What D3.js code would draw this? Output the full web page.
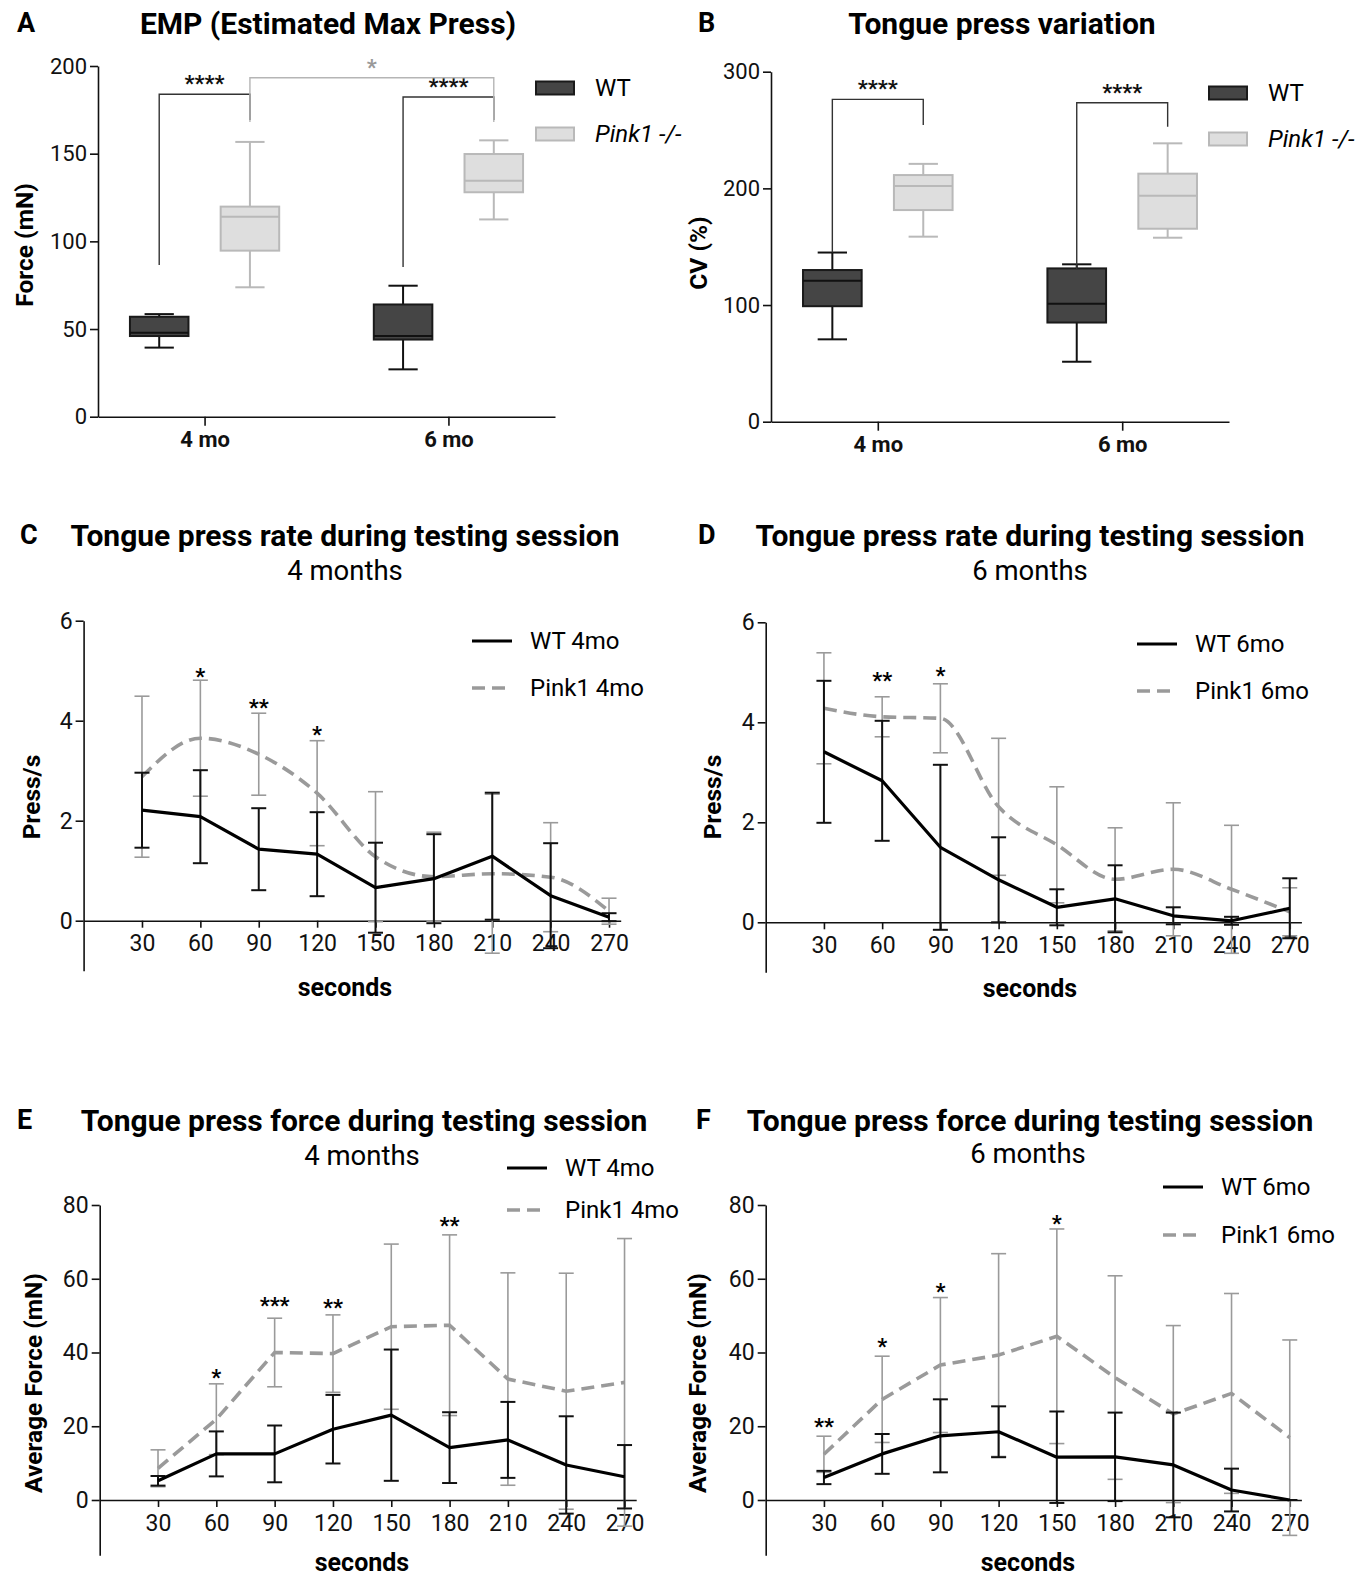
<!DOCTYPE html>
<html>
<head>
<meta charset="utf-8">
<script src="https://cdn.jsdelivr.net/npm/d3@7"></script>
<style>
  body { margin: 0; background: #fff; }
  svg { display: block; font-family: Roboto, "Liberation Sans", sans-serif; }
</style>
</head>
<body>
<svg id="fig" width="1370" height="1579"></svg>
<script>
/* ───── data ───── */

const ageGroups = ["4 mo", "6 mo"];

// box plots: [min, q1, median, q3, max] per age group
const empWT   = [[39.4, 46, 47.9, 57, 58.5], [27, 44, 46, 64, 74.7]];
const empPink = [[73.8, 94.7, 114, 119.8, 156.7], [112.5, 128, 134.6, 149.8, 157.6]];
const cvWT    = [[70.6, 99, 120.9, 130, 145], [51.4, 85, 101, 131.4, 134.9]];
const cvPink  = [[158.6, 181.4, 202, 211.4, 221], [157.7, 165.4, 193.7, 212.6, 238.6]];

// significance brackets: [fromGroup, fromSeries, toGroup, toSeries, startValue, topValue, endValue, label, kind]
const empBrackets = [
  ["4 mo", 0, "4 mo", 1, 86.5, 183.9, 169.2, "****", "within"],
  ["6 mo", 0, "6 mo", 1, 85.4, 182.3, 169.2, "****", "within"],
  ["4 mo", 1, "6 mo", 1, 168, 193.3, 168, "*", "between"]
];
const cvBrackets = [
  ["4 mo", 0, "4 mo", 1, 145, 276.3, 254.3, "****", "within"],
  ["6 mo", 0, "6 mo", 1, 130, 273.4, 252.9, "****", "within"]
];

const seconds = [30, 60, 90, 120, 150, 180, 210, 240, 270];

const rate4WTMean   = [2.21, 2.08, 1.43, 1.33, 0.66, 0.84, 1.29, 0.50, 0.07];
const rate4WTSd     = [0.75, 0.93, 0.82, 0.84, 0.90, 0.89, 1.27, 1.05, 0.08];
const rate4PinkMean = [2.88, 3.65, 3.33, 2.55, 1.28, 0.88, 0.94, 0.87, 0.19];
const rate4PinkSd   = [1.61, 1.16, 0.82, 1.05, 1.30, 0.89, 1.59, 1.09, 0.26];
const rate4Stars    = [[60, "*", 4.97], [90, "**", 4.35], [120, "*", 3.81]];

const rate6WTMean   = [3.41, 2.83, 1.50, 0.85, 0.30, 0.47, 0.13, 0.03, 0.28];
const rate6WTSd     = [1.42, 1.20, 1.65, 0.85, 0.36, 0.67, 0.17, 0.08, 0.60];
const rate6PinkMean = [4.28, 4.11, 4.08, 2.31, 1.55, 0.86, 1.06, 0.66, 0.21];
const rate6PinkSd   = [1.11, 0.40, 0.69, 1.37, 1.16, 1.03, 1.33, 1.28, 0.48];
const rate6Stars    = [[60, "**", 4.91], [90, "*", 5.01]];

const force4WTMean   = [5.2, 12.5, 12.5, 19.2, 23.0, 14.2, 16.3, 9.5, 6.3];
const force4WTSd     = [1.3, 6.1, 7.7, 9.3, 17.8, 9.6, 10.3, 13.2, 8.6];
const force4PinkMean = [8.6, 21.9, 40.0, 39.7, 47.0, 47.4, 32.8, 29.5, 31.9];
const force4PinkSd   = [5.0, 9.6, 9.3, 10.5, 22.4, 24.5, 28.8, 32.0, 39.0];
const force4Stars    = [[60, "*", 34.4], [90, "***", 53.8], [120, "**", 53.4], [180, "**", 75.5]];

const force6WTMean   = [6.1, 12.5, 17.4, 18.5, 11.6, 11.7, 9.5, 2.7, 0];
const force6WTSd     = [1.8, 5.4, 9.9, 6.9, 12.4, 12.0, 14.2, 5.8, 0];
const force6PinkMean = [12.4, 27.3, 36.6, 39.3, 44.4, 33.2, 23.3, 28.9, 16.9];
const force6PinkSd   = [4.9, 11.7, 18.3, 27.5, 29.1, 27.6, 24.0, 27.1, 26.5];
const force6Stars    = [[30, "**", 20.9], [60, "*", 42.6], [90, "*", 57.6], [150, "*", 76.2]];

/* ───── styles ───── */

const WT_FILL = "#454545", WT_STROKE = "#1a1a1a";
const PINK_FILL = "#dedede", PINK_STROKE = "#b9b9b9";
const LINE_GREY = "#9a9a9a";

const svg = d3.select("#fig");

function styleAxis(g, size) {
  g.selectAll("path, line").attr("stroke", "#111").attr("stroke-width", 1.6);
  g.selectAll("text")
    .attr("fill", "#111")
    .style("font-size", size + "px")
    .style("font-family", "Roboto, sans-serif");
}

function headers(c) {
  svg.append("text")
    .attr("x", c.letterX).attr("y", c.titleY)
    .attr("dominant-baseline", "central")
    .style("font-size", "27px").style("font-weight", "700")
    .text(c.letter);
  svg.append("text")
    .attr("x", c.titleX).attr("y", c.titleY)
    .attr("text-anchor", "middle").attr("dominant-baseline", "central")
    .style("font-size", "30px").style("font-weight", "700")
    .text(c.title);
  if (c.subtitle) {
    svg.append("text")
      .attr("x", c.subX).attr("y", c.subY)
      .attr("text-anchor", "middle").attr("dominant-baseline", "central")
      .style("font-size", "27.5px")
      .text(c.subtitle);
  }
}

function yLabel(text, x, y) {
  svg.append("text")
    .attr("transform", `translate(${x},${y}) rotate(-90)`)
    .attr("text-anchor", "middle").attr("dominant-baseline", "central")
    .style("font-size", "24.5px").style("font-weight", "700")
    .text(text);
}

/* ───── box plot panels (A, B) ───── */

function boxPanel(c) {
  headers(c);

  const x = d3.scalePoint().domain(ageGroups).range([c.left, c.right]).padding(0.437);
  const y = d3.scaleLinear().domain([0, c.yMax]).range([c.bottom, c.top]);
  const step = x.step();
  const off = [-0.186 * step, 0.186 * step];
  const bw = 0.24 * step;

  const cx = (grp, s) => x(grp) + off[s];

  const series = [
    { stats: c.wt,   fill: WT_FILL,   stroke: WT_STROKE,   whisk: "#111",      med: "#111" },
    { stats: c.pink, fill: PINK_FILL, stroke: PINK_STROKE, whisk: PINK_STROKE, med: PINK_STROKE }
  ];

  series.forEach((s, si) => {
    const g = svg.append("g");
    ageGroups.forEach((grp, gi) => {
      const [mn, q1, md, q3, mx] = s.stats[gi];
      const xc = cx(grp, si);
      // whiskers
      g.append("line").attr("x1", xc).attr("x2", xc).attr("y1", y(mx)).attr("y2", y(q3))
        .attr("stroke", s.whisk).attr("stroke-width", 2);
      g.append("line").attr("x1", xc).attr("x2", xc).attr("y1", y(q1)).attr("y2", y(mn))
        .attr("stroke", s.whisk).attr("stroke-width", 2);
      [mn, mx].forEach(v => {
        g.append("line").attr("x1", xc - bw / 4).attr("x2", xc + bw / 4)
          .attr("y1", y(v)).attr("y2", y(v))
          .attr("stroke", s.whisk).attr("stroke-width", 2);
      });
      g.append("rect")
        .attr("x", xc - bw / 2).attr("width", bw)
        .attr("y", y(q3)).attr("height", y(q1) - y(q3))
        .attr("fill", s.fill).attr("stroke", s.stroke).attr("stroke-width", 2);
      g.append("line").attr("x1", xc - bw / 2).attr("x2", xc + bw / 2)
        .attr("y1", y(md)).attr("y2", y(md))
        .attr("stroke", s.med).attr("stroke-width", 2);
    });
  });

  // brackets
  c.brackets.forEach(([g0, s0, g1, s1, v0, vt, v1, label, kind]) => {
    const col = kind === "between" ? "#b5b5b5" : "#333";
    const x0 = cx(g0, s0), x1 = cx(g1, s1);
    svg.append("path")
      .attr("d", `M${x0},${y(v0)}V${y(vt)}H${x1}V${y(v1)}`)
      .attr("fill", "none").attr("stroke", col).attr("stroke-width", 1.4);
    svg.append("text")
      .attr("x", (x0 + x1) / 2).attr("y", y(vt) - 3)
      .attr("text-anchor", "middle")
      .attr("fill", kind === "between" ? "#999" : "#111")
      .style("font-size", "22px").style("font-weight", "700")
      .text(label);
  });

  const ya = svg.append("g").attr("transform", `translate(${c.left},0)`)
    .call(d3.axisLeft(y).ticks(c.yMax / c.yStep).tickSize(8).tickSizeOuter(0).tickPadding(3));
  styleAxis(ya, 22);

  const xa = svg.append("g").attr("transform", `translate(0,${c.bottom})`)
    .call(d3.axisBottom(x).tickSize(9).tickSizeOuter(0).tickPadding(6));
  styleAxis(xa, 22);
  xa.selectAll("text").style("font-weight", "700");

  yLabel(c.ylabel, c.ylabelX, c.ylabelY);

  // legend
  [["WT", WT_FILL, WT_STROKE, "normal"], ["Pink1 -/-", PINK_FILL, PINK_STROKE, "italic"]]
    .forEach(([name, fill, stroke, fs], i) => {
      const ly = c.legY + i * 46;
      svg.append("rect").attr("x", c.legX).attr("y", ly - 6.5).attr("width", 38).attr("height", 13)
        .attr("fill", fill).attr("stroke", stroke).attr("stroke-width", 2);
      svg.append("text").attr("x", c.legX + 59).attr("y", ly)
        .attr("dominant-baseline", "central")
        .style("font-size", "24px").style("font-style", fs)
        .text(name);
    });
}

/* ───── line panels (C–F) ───── */

function linePanel(c) {
  headers(c);

  const x = d3.scaleLinear().domain([0, 276]).range([c.left, c.right]);
  const y = d3.scaleLinear().domain([c.yMin, c.yMax]).range([c.bottom, c.top]);

  const rows = (mean, sd) => seconds.map((s, i) => ({ s, m: mean[i], sd: sd[i] }));
  const wt = rows(c.wtMean, c.wtSd);
  const pink = rows(c.pinkMean, c.pinkSd);

  function errorBars(data, col, w) {
    const g = svg.append("g").attr("stroke", col).attr("stroke-width", w);
    data.forEach(d => {
      const xp = x(d.s);
      g.append("line").attr("x1", xp).attr("x2", xp)
        .attr("y1", y(d.m - d.sd)).attr("y2", y(d.m + d.sd));
      [d.m - d.sd, d.m + d.sd].forEach(v => {
        g.append("line").attr("x1", xp - 7.5).attr("x2", xp + 7.5)
          .attr("y1", y(v)).attr("y2", y(v));
      });
    });
  }

  const ya = svg.append("g").attr("transform", `translate(${c.left},0)`)
    .call(d3.axisLeft(y).tickValues(c.yTicks).tickFormat(d3.format("d"))
      .tickSize(8).tickSizeOuter(0).tickPadding(3));
  styleAxis(ya, 23);

  const xa = svg.append("g").attr("transform", `translate(0,${y(0)})`)
    .call(d3.axisBottom(x).tickValues(seconds).tickSize(7).tickSizeOuter(0).tickPadding(c.xPad));
  styleAxis(xa, 23);

  errorBars(pink, LINE_GREY, 1.6);
  svg.append("path").datum(pink)
    .attr("d", d3.line().x(d => x(d.s)).y(d => y(d.m)).curve(c.pinkCurve))
    .attr("fill", "none").attr("stroke", LINE_GREY).attr("stroke-width", 3.6)
    .attr("stroke-dasharray", "13,7");

  errorBars(wt, "#111", 2);
  svg.append("path").datum(wt)
    .attr("d", d3.line().x(d => x(d.s)).y(d => y(d.m)))
    .attr("fill", "none").attr("stroke", "#000").attr("stroke-width", 3.2)
    .attr("stroke-linejoin", "round");

  c.stars.forEach(([s, label, v]) => {
    svg.append("text")
      .attr("x", x(s)).attr("y", y(v) + 4)
      .attr("text-anchor", "middle").attr("dominant-baseline", "central")
      .style("font-size", "22px").style("font-weight", "700")
      .text(label);
  });

  yLabel(c.ylabel, c.ylabelX, c.ylabelY);
  svg.append("text")
    .attr("x", c.xlabelX).attr("y", c.xlabelY)
    .attr("text-anchor", "middle").attr("dominant-baseline", "central")
    .style("font-size", "25px").style("font-weight", "700")
    .text("seconds");

  // legend
  [[c.names[0], "#000", null, 3.2], [c.names[1], LINE_GREY, "13,7", 3.6]]
    .forEach(([name, col, dash, w], i) => {
      const ly = c.legY + i * c.legGap;
      svg.append("line").attr("x1", c.legX).attr("x2", c.legX + 40)
        .attr("y1", ly).attr("y2", ly)
        .attr("stroke", col).attr("stroke-width", w)
        .attr("stroke-dasharray", dash);
      svg.append("text").attr("x", c.legX + 58).attr("y", ly)
        .attr("dominant-baseline", "central")
        .style("font-size", "24px")
        .text(name);
    });
}

/* ───── panels ───── */

boxPanel({
  letter: "A", letterX: 17, title: "EMP (Estimated Max Press)", titleX: 328, titleY: 23,
  left: 98, right: 555, top: 66, bottom: 416.7, yMax: 200, yStep: 50,
  wt: empWT, pink: empPink, brackets: empBrackets,
  ylabel: "Force (mN)", ylabelX: 24, ylabelY: 245,
  legX: 536, legY: 88
});

boxPanel({
  letter: "B", letterX: 698, title: "Tongue press variation", titleX: 1002, titleY: 23,
  left: 771, right: 1229, top: 71.7, bottom: 421.7, yMax: 300, yStep: 100,
  wt: cvWT, pink: cvPink, brackets: cvBrackets,
  ylabel: "CV (%)", ylabelX: 698, ylabelY: 253,
  legX: 1209, legY: 93
});

linePanel({
  letter: "C", letterX: 20, title: "Tongue press rate during testing session", titleX: 345, titleY: 535,
  subtitle: "4 months", subX: 345, subY: 570,
  left: 83.6, right: 620.7, top: 620.7, bottom: 970.7, yMin: -1, yMax: 6, yTicks: [0, 2, 4, 6], xPad: 7,
  wtMean: rate4WTMean, wtSd: rate4WTSd, pinkMean: rate4PinkMean, pinkSd: rate4PinkSd,
  pinkCurve: d3.curveMonotoneX, stars: rate4Stars,
  ylabel: "Press/s", ylabelX: 31, ylabelY: 797, xlabelX: 345, xlabelY: 987,
  names: ["WT 4mo", "Pink1 4mo"], legX: 472, legY: 641, legGap: 47
});

linePanel({
  letter: "D", letterX: 698, title: "Tongue press rate during testing session", titleX: 1030, titleY: 535,
  subtitle: "6 months", subX: 1030, subY: 570,
  left: 765.7, right: 1301.4, top: 622.3, bottom: 972.3, yMin: -1, yMax: 6, yTicks: [0, 2, 4, 6], xPad: 7,
  wtMean: rate6WTMean, wtSd: rate6WTSd, pinkMean: rate6PinkMean, pinkSd: rate6PinkSd,
  pinkCurve: d3.curveMonotoneX, stars: rate6Stars,
  ylabel: "Press/s", ylabelX: 712, ylabelY: 797, xlabelX: 1030, xlabelY: 988,
  names: ["WT 6mo", "Pink1 6mo"], legX: 1137, legY: 644, legGap: 47
});

linePanel({
  letter: "E", letterX: 17, title: "Tongue press force during testing session", titleX: 364, titleY: 1120,
  subtitle: "4 months", subX: 362, subY: 1155,
  left: 99.7, right: 636.2, top: 1205, bottom: 1555.3, yMin: -15, yMax: 80, yTicks: [0, 20, 40, 60, 80], xPad: 8,
  wtMean: force4WTMean, wtSd: force4WTSd, pinkMean: force4PinkMean, pinkSd: force4PinkSd,
  pinkCurve: d3.curveLinear, stars: force4Stars,
  ylabel: "Average Force (mN)", ylabelX: 33, ylabelY: 1383, xlabelX: 362, xlabelY: 1562,
  names: ["WT 4mo", "Pink1 4mo"], legX: 507, legY: 1168, legGap: 42
});

linePanel({
  letter: "F", letterX: 696, title: "Tongue press force during testing session", titleX: 1030, titleY: 1120,
  subtitle: "6 months", subX: 1028, subY: 1153,
  left: 765.7, right: 1301.4, top: 1205, bottom: 1555.3, yMin: -15, yMax: 80, yTicks: [0, 20, 40, 60, 80], xPad: 8,
  wtMean: force6WTMean, wtSd: force6WTSd, pinkMean: force6PinkMean, pinkSd: force6PinkSd,
  pinkCurve: d3.curveLinear, stars: force6Stars,
  ylabel: "Average Force (mN)", ylabelX: 697, ylabelY: 1383, xlabelX: 1028, xlabelY: 1562,
  names: ["WT 6mo", "Pink1 6mo"], legX: 1163, legY: 1187, legGap: 48
});
</script>
</body>
</html>
